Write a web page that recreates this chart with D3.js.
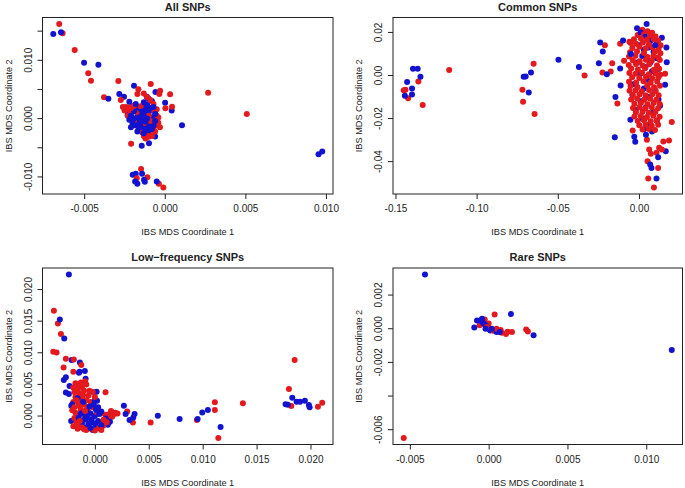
<!DOCTYPE html>
<html><head><meta charset="utf-8">
<script src="https://cdn.jsdelivr.net/npm/d3@7"></script>
<style>body{margin:0;background:#fff}svg{display:block}text{font-family:"Liberation Sans",Arial,Helvetica,sans-serif;fill:#222}</style>
</head><body>
<svg id="c" width="685" height="488"></svg>
<script>
// ---------- DATA ----------
const titles = ["All SNPs", "Common SNPs", "Low\u2212frequency SNPs", "Rare SNPs"];
const xAxisLabel = "IBS MDS Coordinate 1";
const yAxisLabel = "IBS MDS Coordinate 2";

// Panel 1: All SNPs
const allRed = [
 [-0.00655,0.01622],[-0.00634,0.01462],[-0.00559,0.01176],[-0.00475,0.00777],[-0.00458,0.00651],
 [-0.00288,0.00646],[-0.00164,0.00503],[-0.00377,0.00366],[-0.00273,0.0032],[-0.00087,0.00594],
 [-0.00029,0.00479],[-0.00034,0.00423],[0.00033,0.00418],[0.00045,0.00205],[0.00004,0.00178],
 [0.00269,0.00445],[0.00509,0.0008],[-0.00209,-0.00433],[-0.00147,-0.00866],[-0.00174,-0.01021],
 [-0.00108,-0.01004],[-0.00037,-0.01118],[-0.00009,-0.01181],
 [-0.0024,0.0020],[-0.0022,0.0019],[-0.0020,0.0021],[-0.0018,0.0017],[-0.0023,0.0015],[-0.0026,0.0020],
 [-0.0025,0.0014],[-0.0017,0.0013],[-0.0021,0.0010],[-0.0023,0.0005],[-0.0019,-0.0003],
 [-0.0008,0.0015],[-0.0006,0.0012],[-0.0005,0.0005],[-0.0004,-0.0007],[-0.0005,-0.0012],
 [-0.0007,-0.0020],[-0.0009,-0.0025],[-0.0011,-0.0027],[-0.0013,-0.0030],[-0.0012,-0.0034],
 [-0.0008,-0.0030],[-0.0006,-0.0022],[-0.0003,-0.0015],[-0.0005,0.0016],[-0.0007,0.0025],
 [-0.0009,0.0032],[-0.0011,0.0037],[-0.0013,0.0043],[-0.0017,0.0042],[-0.0014,-0.0024],
 [-0.0016,0.0008],[-0.0010,0.0005],[-0.0013,-0.0008],[-0.0009,-0.0004],
 [-0.0021,0.0018],[-0.0019,0.0022],[-0.0015,0.0021],[-0.0004,0.0002],[-0.0010,-0.0031]
];
const allBlue = [
 [-0.00692,0.0145],[-0.00644,0.0148],[-0.00501,0.00959],[-0.00412,0.00925],[-0.00191,0.00565],
 [-0.00282,0.00423],[-0.00253,0.00377],[-0.0035,0.00342],[-0.00058,0.00457],[0.00002,0.00274],
 [0.00043,0.00137],[0.00107,-0.00113],[0.00954,-0.0061],[0.00977,-0.00565],[-0.00143,-0.00467],
 [-0.00098,-0.00421],[-0.0006,-0.00308],[-0.00199,-0.00964],[-0.0018,-0.00947],[-0.00184,-0.01079],
 [-0.0017,-0.01118],[-0.00141,-0.00947],[-0.00129,-0.0105],[-0.00124,-0.01084],[-0.0005,-0.01079],
 [-0.00112,0.00377],[-0.0022,0.0029],[-0.0023,0.0006],[-0.0006,0.0005],
 [-0.0014,0.0000],[-0.0012,0.0005],[-0.0016,-0.0005],[-0.0013,-0.0010],[-0.0011,-0.0003],
 [-0.0015,0.0010],[-0.0017,0.0003],[-0.0010,0.0010],[-0.0012,-0.0015],[-0.0014,-0.0020],
 [-0.0018,-0.0012],[-0.0009,-0.0008],[-0.0013,0.0018],[-0.0011,0.0024],[-0.0008,0.0030],
 [-0.0010,0.0034],[-0.0019,0.0000],[-0.0020,-0.0008],[-0.0016,-0.0018],[-0.0010,-0.0020],
 [-0.0008,0.0002],[-0.0007,-0.0012],[-0.0015,0.0015],[-0.0017,0.0020],[-0.0019,0.0012],
 [-0.0012,0.0012],[-0.0014,0.0006],[-0.0016,-0.0010],[-0.0012,-0.0005],[-0.0010,-0.0014],
 [-0.0013,-0.0025],[-0.0009,0.0018],[-0.0021,0.0005],[-0.0022,-0.0002],[-0.0006,0.0008],
 [-0.0007,0.0020],[-0.0018,0.0025],[-0.0013,0.0028],[-0.0016,0.0002],[-0.0011,0.0000],
 [-0.0015,-0.0014],[-0.0021,-0.0015],[-0.0017,-0.0022],[-0.0008,-0.0018],[-0.0006,-0.0004],
 [-0.0013,0.0003],[-0.0015,-0.0007],[-0.0011,0.0015],[-0.0014,0.0012],[-0.0012,-0.0020]
];
const allXTicks = [-0.005, 0, 0.005, 0.010];
const allXTickLabels = ["-0.005", "0.000", "0.005", "0.010"];
const allYTicks = [-0.010, -0.005, 0, 0.005, 0.010, 0.015];
const allYTickLabels = ["-0.010", "", "0.000", "", "0.010", ""];

// Panel 2: Common SNPs
const commonRed = [
 [-0.1359,-0.0028],[-0.1438,-0.0066],[-0.1449,-0.0069],[-0.1422,-0.0106],[-0.1332,-0.0137],
 [-0.1169,0.0026],[-0.0649,0.0054],[-0.0718,-0.0066],[-0.0714,-0.0122],[-0.0643,-0.0179],
 [-0.0335,0.0],[-0.021,0.0141],[-0.0225,0.0014],[-0.0165,0.0057],[-0.0174,0.0019],
 [-0.0116,0.0147],[-0.0092,0.0069],[-0.0133,-0.013],[-0.0039,-0.0255],[0.0202,-0.0216],
 [0.0185,-0.0302],[0.015,-0.0306],[0.0124,-0.0336],[0.0108,-0.0359],[0.0073,-0.0364],
 [0.0053,-0.0398],[0.0118,-0.043],[0.0057,-0.0478],[0.0092,-0.052],[0.0063,-0.0344],
 [0.0049,-0.0298],[0.0141,-0.0344],[0.0161,0.0008],[-0.0059,0.0157],
 [0.0020,0.0212],[0.0052,0.0205],[0.0081,0.0198],
 [-0.0008,0.0188],[0.0031,0.0192],[0.0068,0.0185],[0.0102,0.0181],
 [-0.0031,0.0168],[0.0012,0.0172],[0.0049,0.0166],[0.0091,0.0170],[0.0118,0.0162],
 [-0.0052,0.0151],[-0.0018,0.0147],[0.0024,0.0153],[0.0061,0.0144],[0.0108,0.0149],[0.0133,0.0140],
 [-0.0041,0.0128],[0.0003,0.0133],[0.0042,0.0126],[0.0083,0.0131],[0.0121,0.0124],
 [-0.0055,0.0108],[-0.0012,0.0112],[0.0031,0.0105],[0.0098,0.0110],[0.0132,0.0103],
 [-0.0061,0.0088],[-0.0022,0.0092],[0.0053,0.0086],[0.0089,0.0091],[0.0119,0.0084],
 [-0.0038,0.0071],[0.0004,0.0066],[0.0042,0.0073],[0.0079,0.0068],[0.0128,0.0072],
 [-0.0063,0.0049],[-0.0019,0.0053],[0.0022,0.0046],[0.0063,0.0052],[0.0111,0.0047],
 [-0.0048,0.0032],[-0.0007,0.0028],[0.0038,0.0034],[0.0092,0.0027],[0.0124,0.0031],
 [-0.0059,0.0012],[-0.0021,0.0008],[0.0019,0.0013],[0.0061,0.0006],[0.0101,0.0011],[0.0131,0.0004],
 [-0.0042,-0.0008],[0.0002,-0.0012],[0.0043,-0.0006],[0.0081,-0.0013],[0.0119,-0.0009],
 [-0.0061,-0.0029],[-0.0018,-0.0033],[0.0028,-0.0027],[0.0072,-0.0034],[0.0112,-0.0028],
 [-0.0052,-0.0049],[-0.0009,-0.0053],[0.0051,-0.0047],[0.0093,-0.0054],[0.0129,-0.0048],
 [-0.0058,-0.0071],[-0.0021,-0.0068],[0.0018,-0.0073],[0.0062,-0.0067],[0.0103,-0.0072],
 [-0.0039,-0.0091],[0.0003,-0.0088],[0.0041,-0.0093],[0.0082,-0.0087],[0.0121,-0.0092],
 [-0.0048,-0.0111],[-0.0011,-0.0107],[0.0032,-0.0113],[0.0069,-0.0108],[0.0108,-0.0112],
 [-0.0028,-0.0131],[0.0012,-0.0128],[0.0052,-0.0133],[0.0091,-0.0127],[0.0128,-0.0132],
 [-0.0037,-0.0151],[0.0003,-0.0148],[0.0039,-0.0153],[0.0079,-0.0147],[0.0118,-0.0152],
 [-0.0019,-0.0171],[0.0022,-0.0168],[0.0061,-0.0173],[0.0101,-0.0169],
 [-0.0028,-0.0191],[0.0011,-0.0188],[0.0049,-0.0193],[0.0088,-0.0187],[0.0127,-0.0192],
 [-0.0008,-0.0211],[0.0031,-0.0208],[0.0072,-0.0213],[0.0109,-0.0209],
 [0.0002,-0.0231],[0.0041,-0.0228],[0.0079,-0.0233],[0.0118,-0.0229],
 [0.0022,-0.0251],[0.0061,-0.0248],[0.0099,-0.0253]
];
const commonBlue = [
 [-0.1428,-0.00306],[-0.1392,0.0031],[-0.1363,0.0031],[-0.1346,-0.0006],[-0.1398,-0.006],
 [-0.1442,-0.0094],[-0.1398,-0.0088],[-0.0665,0.0014],[-0.0698,-0.0005],[-0.071,-0.0006],
 [-0.0679,-0.0079],[-0.0496,0.0073],[-0.037,0.004],[-0.0247,0.0057],[-0.0239,0.0153],
 [-0.0223,0.0111],[-0.0198,0.0006],[-0.0116,0.0032],[-0.0098,0.0162],[-0.0113,-0.0046],
 [-0.0145,-0.01],[-0.0149,-0.0287],[-0.0053,-0.0205],[-0.0029,-0.0285],[-0.0023,-0.0308],
 [0.0165,-0.0352],[0.0118,-0.038],[0.0069,-0.0413],[0.0077,-0.043],[0.0108,-0.0478],[0.0043,-0.0275],
 [0.0047,0.0239],[-0.0012,0.0219],[0.0141,0.0175],[0.0169,0.013],[0.0171,0.0062],[0.0161,-0.0043],
 [0.001,0.020],[0.004,0.018],[0.007,0.016],[0.000,0.014],[0.003,0.012],[0.006,0.013],[0.009,0.011],
 [0.002,0.009],[0.005,0.008],[0.007,0.006],[-0.001,0.006],[0.004,0.004],[0.011,0.008],[0.012,0.003],
 [0.001,0.001],[0.008,0.002],[0.005,-0.002],[-0.003,-0.004],[0.003,-0.006],[0.010,-0.007],
 [0.006,-0.010],[0.001,-0.012],[0.012,-0.011],[0.004,-0.015],[-0.002,-0.016],[0.009,-0.017],
 [0.002,-0.020],[0.011,-0.021],[0.006,-0.023],[-0.004,-0.009],[0.013,-0.014],[-0.005,0.010],
 [0.010,0.014],[0.003,-0.025],[0.008,-0.026]
];
const commonXTicks = [-0.15, -0.10, -0.05, 0.00];
const commonXTickLabels = ["-0.15", "-0.10", "-0.05", "0.00"];
const commonYTicks = [-0.04, -0.02, 0.00, 0.02];
const commonYTickLabels = ["-0.04", "-0.02", "0.00", "0.02"];

// Panel 3: Low-frequency SNPs
const lowRed = [
 [-0.0038,0.01664],[-0.00343,0.01464],[-0.00315,0.01295],[-0.00386,0.01016],[-0.00355,0.01006],
 [-0.00269,0.00906],[-0.00195,0.00895],[-0.0029,0.00769],[-0.00126,0.00805],[-0.002,0.007],
 [0.00099,0.00374],[0.003,0.0007],[0.00353,-0.00104],[0.00517,-0.00104],[0.00946,-0.00063],
 [0.01113,0.00095],[0.01113,0.00216],[0.01145,-0.00347],[0.01373,0.002],[0.01853,0.00884],
 [0.018,0.00426],[0.01822,0.00158],[0.02069,0.00148],[0.02109,0.00211],
 [-0.0018,0.0052],[-0.0013,0.0053],[-0.0009,0.0055],
 [-0.0020,0.0045],[-0.0016,0.0048],[-0.0012,0.0046],[-0.0008,0.0050],[-0.0019,0.0038],
 [-0.0014,0.0036],[-0.0010,0.0040],[-0.0006,0.0032],[-0.0018,0.0030],[-0.0012,0.0028],
 [-0.0008,0.0025],[-0.0020,0.0022],[-0.0015,0.0020],[-0.0010,0.0018],[-0.0004,0.0022],
 [-0.0019,0.0014],[-0.0013,0.0010],[-0.0007,0.0012],[-0.0002,0.0014],[-0.0018,0.0005],
 [-0.0012,0.0003],[-0.0006,0.0006],[0.0002,0.0006],[0.0006,0.0004],[0.0010,0.0002],
 [0.0014,0.0004],[0.0018,0.0003],[0.0021,0.0004],[0.0012,-0.0002],[0.0016,-0.0001],
 [0.0008,-0.0006],[-0.0019,-0.0003],[-0.0017,-0.0010],[-0.0020,-0.0016],[-0.0016,-0.0020],
 [-0.0012,-0.0018],[-0.0008,-0.0022],[-0.0004,-0.0020],[0.0000,-0.0023],[0.0004,-0.0019],
 [0.0008,-0.0015],[-0.0014,-0.0008],[-0.0021,0.0009],[-0.0005,0.0040],[0.0000,0.0030],
 [-0.0002,0.0038],[0.0019,0.0005],
 [-0.0016,0.0042],[-0.0011,0.0033],[-0.0017,0.0025],[-0.0014,0.0015],[-0.0009,0.0008],
 [-0.0016,-0.0015],[-0.0010,-0.0021],[0.0006,-0.0022],[0.0011,-0.0010],[0.0015,0.0008]
];
const lowBlue = [
 [-0.00241,0.02237],[-0.00325,0.01527],[-0.00284,0.01227],[-0.00216,0.00884],[-0.00139,0.00848],
 [-0.00142,0.007],[-0.00093,0.0071],[-0.00288,0.00568],[-0.00269,0.00611],[-0.00086,0.0059],
 [-0.00235,0.00474],[-0.00269,0.0037],[-0.00241,0.00348],[0.00016,0.00385],[-0.00219,0.00164],
 [0.00269,0.00164],[0.00285,0.00032],[0.00368,0.00032],[0.00356,-0.00025],[0.00322,-0.00063],
 [0.00584,0.00006],[0.00786,-0.00047],[0.00953,-0.00047],[0.00996,0.00054],[0.01048,0.00095],
 [0.01166,-0.00174],[0.01769,0.00185],[0.0179,0.0018],[0.01831,0.0029],[0.01871,0.00227],
 [0.01902,0.00227],[0.01948,0.00243],[0.01985,0.00174],[0.01992,0.00137],
 [-0.00148,0.00685],[-0.0001,0.0037],[0.0002,0.0024],[-0.0002,0.0016],[-0.0021,0.00185],
 [-0.00163,-0.0002],[-0.0022,-0.0008],
 [0.0000,0.0000],[-0.0003,-0.0005],[0.0003,-0.0008],[-0.0006,-0.0012],[0.0001,-0.0015],
 [-0.0009,-0.0018],[0.0005,-0.0020],[-0.0002,-0.0022],[0.0008,-0.0010],[-0.0010,-0.0006],
 [-0.0004,0.0004],[0.0004,0.0003],[-0.0008,0.0008],[0.0001,0.0010],[-0.0012,-0.0012],
 [0.0010,-0.0004],[-0.0006,-0.0016],[0.0002,-0.0019],[-0.0001,0.0018],[-0.0005,0.0015],
 [0.0003,0.0014],[-0.0013,0.0004],[0.0012,-0.0014],[0.0014,-0.0009],[-0.0015,-0.0003],
 [0.0006,0.0007],[-0.0003,-0.0010],[0.0000,0.0025],[-0.0011,0.0022],[-0.0016,0.0028],
 [-0.0007,-0.0003],[0.0000,-0.0012],[-0.0004,-0.0019],[0.0006,-0.0015],[-0.0009,0.0002]
];
const lowXTicks = [0.000, 0.005, 0.010, 0.015, 0.020];
const lowXTickLabels = ["0.000", "0.005", "0.010", "0.015", "0.020"];
const lowYTicks = [0.000, 0.005, 0.010, 0.015, 0.020];
const lowYTickLabels = ["0.000", "0.005", "0.010", "0.015", "0.020"];

// Panel 4: Rare SNPs
const rareRed = [
 [-0.00539,-0.00649],[0.00038,0.00085],[0.00238,-0.00004],[0.00249,-0.00016],[-0.00057,0.00021],
 [-0.00025,0.00055],[0.0000,0.00031],[0.00063,-0.00012],[0.00084,-0.00024],[0.0011,-0.00032],
 [0.0012,-0.00018],[0.00148,-0.0002],[0.00076,-0.00008],[-0.0001,0.0001],[0.0003,-0.0001],[0.0005,0.0000]
];
const rareBlue = [
 [-0.00404,0.00322],[0.01162,-0.00127],[0.00285,-0.00038],[0.00141,0.00087],[-0.00091,0.00008],
 [-0.00074,0.00049],[-0.00042,0.00059],[-0.0004,0.0004],[-0.0003,0.0003],[-0.0002,0.0002],
 [-0.0001,0.0001],[0.0000,0.0000],[0.0001,-0.0001],[0.0003,-0.0001],[0.0005,-0.0002],
 [0.0007,-0.0002],[-0.0005,0.0005],[-0.0002,0.0000],[0.0002,0.0000]
];
const rareXTicks = [-0.005, 0.000, 0.005, 0.010];
const rareXTickLabels = ["-0.005", "0.000", "0.005", "0.010"];
const rareYTicks = [-0.006, -0.004, -0.002, 0.000, 0.002];
const rareYTickLabels = ["-0.006", "", "-0.002", "0.000", "0.002"];

// ---------- DRAW ----------
const RED = "#e3191e", BLUE = "#1212cf";
const svg = d3.select("#c");

function rRange(vals) {
  const e = d3.extent(vals), pad = (e[1] - e[0]) * 0.04;
  return [e[0] - pad, e[1] + pad];
}

function panel(cfg) {
  const {left, right, top, bottom} = cfg.box;
  const pts = cfg.red.concat(cfg.blue);
  const x = d3.scaleLinear().domain(rRange(pts.map(d => d[0]))).range([left, right]);
  const y = d3.scaleLinear().domain(rRange(pts.map(d => d[1]))).range([bottom, top]);
  const g = svg.append("g");

  const seq = [];
  const n = Math.max(cfg.red.length, cfg.blue.length);
  for (let i = 0; i < n; i++) {
    if (i < cfg.red.length) seq.push({p: cfg.red[i], c: RED});
    if (i < cfg.blue.length) seq.push({p: cfg.blue[i], c: BLUE});
  }
  g.append("g").selectAll("circle").data(seq).join("circle")
    .attr("cx", d => x(d.p[0])).attr("cy", d => y(d.p[1]))
    .attr("r", 3.0).attr("fill", d => d.c);

  const xa = g.append("g").attr("transform", `translate(0,${bottom})`)
    .call(d3.axisBottom(x).tickValues(cfg.xTicks).tickSize(5).tickPadding(5)
      .tickFormat((d, i) => cfg.xLabels[i]));
  const ya = g.append("g").attr("transform", `translate(${left},0)`)
    .call(d3.axisLeft(y).tickValues(cfg.yTicks).tickSize(5).tickPadding(0)
      .tickFormat((d, i) => cfg.yLabels[i]));
  [xa, ya].forEach(a => {
    a.select(".domain").remove();
    a.selectAll("line").attr("stroke", "#222").attr("stroke-width", 1);
    a.selectAll("text").style("font-size", "10px").attr("fill", "#222");
  });
  xa.selectAll("text").attr("dy", "0.71em").attr("y", 11);
  ya.selectAll("text").attr("x", null).attr("dy", null)
    .attr("text-anchor", "middle").attr("dominant-baseline", "central")
    .attr("transform", d => `translate(${-14},${0}) rotate(-90,0,${y(d)})`)
    .attr("y", d => y(d)).attr("x", 0);
  ya.selectAll(".tick").attr("transform", null);
  ya.selectAll(".tick line").attr("transform", d => `translate(0,${y(d)})`);

  g.append("rect").attr("x", left).attr("y", top)
    .attr("width", right - left).attr("height", bottom - top)
    .attr("fill", "none").attr("stroke", "#222").attr("stroke-width", 1);

  g.append("text").attr("x", (left + right) / 2).attr("y", top - 7)
    .attr("text-anchor", "middle").style("font-size", "11px").style("font-weight", "bold")
    .text(cfg.title);
  g.append("text").attr("x", (left + right) / 2).attr("y", bottom + 41)
    .attr("text-anchor", "middle").style("font-size", "9.2px").text(xAxisLabel);
  const yc = (top + bottom) / 2, xc = left - 34;
  g.append("text").attr("transform", `translate(${xc},${yc}) rotate(-90)`)
    .attr("text-anchor", "middle").attr("dominant-baseline", "central")
    .style("font-size", "9.2px").text(yAxisLabel);
}

panel({box:{left:42.5,right:333,top:17.5,bottom:194}, red:allRed, blue:allBlue,
  xTicks:allXTicks, xLabels:allXTickLabels, yTicks:allYTicks, yLabels:allYTickLabels, title:titles[0]});
panel({box:{left:393,right:682.5,top:17.5,bottom:194}, red:commonRed, blue:commonBlue,
  xTicks:commonXTicks, xLabels:commonXTickLabels, yTicks:commonYTicks, yLabels:commonYTickLabels, title:titles[1]});
panel({box:{left:42.5,right:333,top:268,bottom:444.5}, red:lowRed, blue:lowBlue,
  xTicks:lowXTicks, xLabels:lowXTickLabels, yTicks:lowYTicks, yLabels:lowYTickLabels, title:titles[2]});
panel({box:{left:393,right:682.5,top:268,bottom:444.5}, red:rareRed, blue:rareBlue,
  xTicks:rareXTicks, xLabels:rareXTickLabels, yTicks:rareYTicks, yLabels:rareYTickLabels, title:titles[3]});
</script>
</body></html>
